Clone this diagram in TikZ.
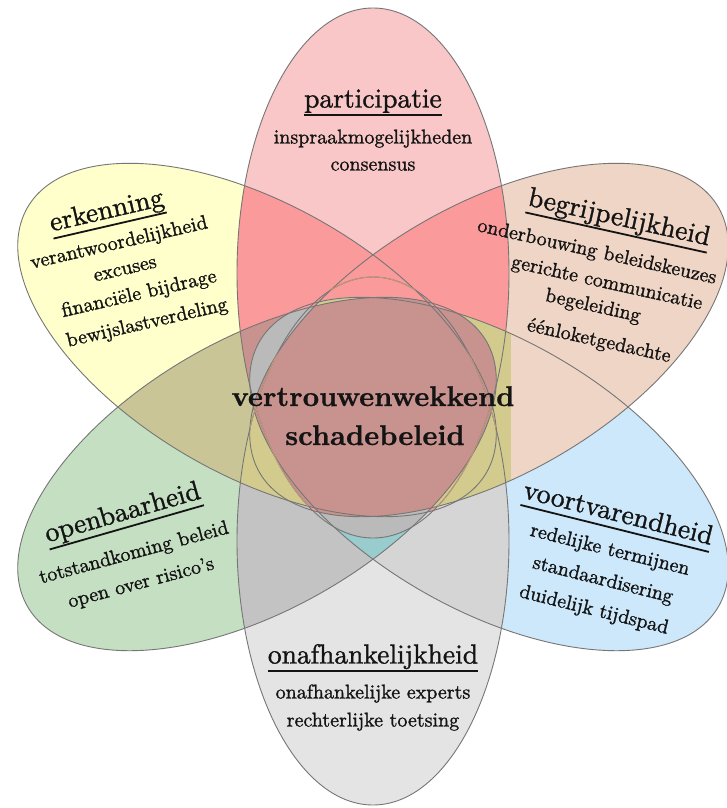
\documentclass[tikz,border=0pt]{standalone}
\usepackage{fontspec}
\newfontfamily\rmtext{lmroman10-regular.otf}[FakeBold=1.2]
\newfontfamily\rmcore{lmroman10-bold.otf}[FakeBold=0.8]
\definecolor{cPink}{HTML}{F9C7C7}
\definecolor{cYel}{HTML}{FFFFCC}
\definecolor{cPeach}{HTML}{EFD5C5}
\definecolor{cGreen}{HTML}{C5DFC2}
\definecolor{cBlue}{HTML}{CCE8FA}
\definecolor{cGray}{HTML}{E4E4E4}
\definecolor{cSalmon}{HTML}{FA9A9A}
\definecolor{cOlive}{HTML}{C9C597}
\definecolor{cOliveY}{HTML}{D2CB8D}
\definecolor{cRose}{HTML}{C8938F}
\definecolor{cGrayO}{HTML}{C3C3C3}
\definecolor{cGrayV}{HTML}{D5D5D5}
\definecolor{cCap}{HTML}{BABABA}
\definecolor{cCyan}{HTML}{99CCCC}
\definecolor{cLine}{HTML}{767676}
\definecolor{cInLine}{HTML}{C49A78}
\definecolor{txt}{HTML}{141414}
\newsavebox\hdbox
\newcommand\hdr[1]{\sbox\hdbox{#1}\makebox[0pt][l]{\rule[-0.3em]{\wd\hdbox}{1.8pt}}\usebox\hdbox}
\tikzset{
  ln/.style={draw=cLine, line width=0.9pt},
  lnin/.style={draw=cInLine, line width=0.8pt},
  hd/.style={font=\rmtext\fontsize{27.5}{30}\selectfont, text=txt, inner sep=0pt, text height=18pt, text depth=5pt},
  bd/.style={font=\rmtext\fontsize{20}{22}\selectfont, text=txt, inner sep=0pt, text height=13pt, text depth=2pt},
  cr/.style={font=\rmcore\fontsize{28.5}{32}\selectfont, text=txt, inner sep=0pt, text height=19pt, text depth=5pt}
}
\begin{document}
\begin{tikzpicture}[x=1pt,y=-1pt]
\useasboundingbox (0,0) rectangle (726,808);
\fill[white] (0,0) rectangle (726,808);
\def\pP{(373,273) ellipse[x radius=136pt,y radius=265pt]}
\def\pG{(373,541) ellipse[x radius=136pt,y radius=264pt]}
\def\pE{(257,340) ellipse[x radius=265pt,y radius=135pt,rotate=-30]}
\def\pB{(489,340) ellipse[x radius=265pt,y radius=135pt,rotate=30]}
\def\pO{(257,474) ellipse[x radius=265pt,y radius=135pt,rotate=30]}
\def\pV{(489,474) ellipse[x radius=265pt,y radius=135pt,rotate=-30]}
\def\pBand{(236,300) rectangle (511,500)}
\def\pAll{(0,0) rectangle (726,808)}
% base petals
\fill[cGray] \pG;
\fill[cGreen] \pO;
\fill[cBlue] \pV;
\fill[cYel] \pE;
\fill[cPeach] \pB;
\fill[cPink] \pP;
% lower greys
\begin{scope}\clip \pG; \fill[cGrayO] \pO; \fill[cGrayV] \pV; \end{scope}
% left band
\begin{scope}\clip \pE; \clip \pO; \fill[cOlive] \pAll; \fill[cOliveY] \pG; \end{scope}
% salmon
\begin{scope}\clip \pP; \fill[cSalmon] \pE; \fill[cSalmon] \pB; \end{scope}
% right band
\begin{scope}\clip \pB; \clip \pV; \fill[cOliveY] \pP; \fill[cOliveY] \pG; \fill[cOliveY] \pBand; \end{scope}
% rose sliver
\begin{scope}\clip \pP; \clip \pE; \clip \pO; \fill[cRose] \pAll; \end{scope}
% cyan
\begin{scope}\clip \pG; \clip \pO; \clip \pV; \fill[cCyan] \pAll; \fill[cOliveY] \pE; \fill[cOliveY] \pB; \end{scope}
% grey cap and crescent
\begin{scope}\clip \pP; \clip \pO; \clip \pV; \fill[cCap] \pAll; \end{scope}
% rose core
\begin{scope}\clip \pO; \clip \pV; \clip \pB; \fill[cRose] \pE; \fill[cRose] \pP; \end{scope}
% outlines
\draw[ln] \pP; \draw[ln] \pG; \draw[ln] \pE; \draw[ln] \pB; \draw[ln] \pO; \draw[ln] \pV;
\begin{scope}\clip \pE; \clip \pB; \draw[lnin] \pP; \draw[lnin] \pG; \end{scope}
% texts: participatie
\node[hd] (hP) at (373,101) {\hdr{participatie}};
\node[bd] (p1) at (373,138) {inspraakmogelijkheden};
\node[bd] (p2) at (373,165) {consensus};
% erkenning
\node[hd,rotate=13] (hE) at (107,212) {\hdr{erkenning}};
\node[bd,rotate=13] (e1) at (119,243) {verantwoordelijkheid};
\node[bd,rotate=13] (e2) at (125,269) {excuses};
\node[bd,rotate=13] (e3) at (139,294) {financiële bijdrage};
\node[bd,rotate=13] (e4) at (147,323) {bewijslastverdeling};
% begrijpelijkheid
\node[hd,rotate=-12.5] (hB) at (619,219) {\hdr{begrijpelijkheid}};
\node[bd,rotate=-12.5] (b1) at (597,252) {onderbouwing beleidskeuzes};
\node[bd,rotate=-12.5] (b2) at (607,283) {gerichte communicatie};
\node[bd,rotate=-12.5] (b3) at (593,306) {begeleiding};
\node[bd,rotate=-12.5] (b4) at (599,341) {éénloketgedachte};
% openbaarheid
\node[hd,rotate=16] (hO) at (123,514) {\hdr{openbaarheid}};
\node[bd,rotate=15] (o1) at (134,553) {totstandkoming beleid};
\node[bd,rotate=15] (o2) at (141,583) {open over risico’s};
% voortvarendheid
\node[hd,rotate=-14] (hV) at (618,515) {\hdr{voortvarendheid}};
\node[bd,rotate=-14] (v1) at (610,550) {redelijke termijnen};
\node[bd,rotate=-14] (v2) at (603,580) {standaardisering};
\node[bd,rotate=-14] (v3) at (594,610) {duidelijk tijdspad};
% onafhankelijkheid
\node[hd] (hG) at (373,657) {\hdr{onafhankelijkheid}};
\node[bd] (g1) at (373,693) {onafhankelijke experts};
\node[bd] (g2) at (373,721) {rechterlijke toetsing};
% core
\node[cr] (c1) at (373,399) {vertrouwenwekkend};
\node[cr] (c2) at (375,438) {schadebeleid};
\end{tikzpicture}
\end{document}
